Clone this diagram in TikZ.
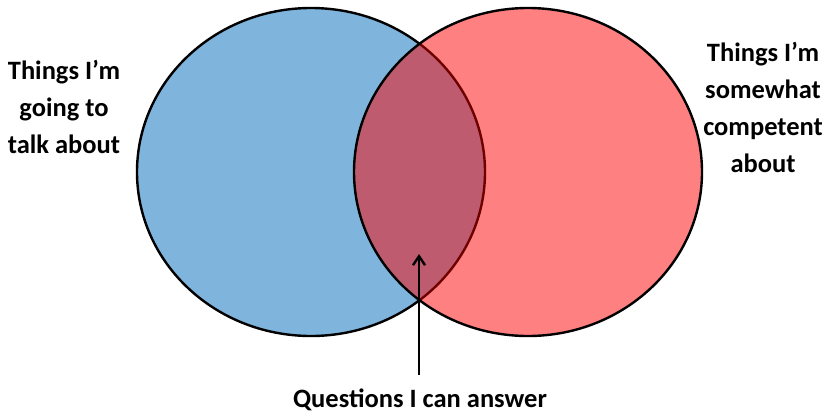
\documentclass[tikz,border=0pt]{standalone}
\usepackage{fontspec}
\setmainfont{Carlito}
\usetikzlibrary{arrows.meta}
\definecolor{vblue}{RGB}{127,181,221}
\definecolor{vred}{RGB}{255,128,128}
\definecolor{vmix}{RGB}{190,91,110}
\definecolor{vdark}{RGB}{110,0,0}
\tikzset{
  lbl/.style={font=\fontsize{26.5}{36.7}\selectfont\bfseries, align=center, inner sep=0pt, anchor=base},
  outline/.style={line width=2.4pt},
}
\begin{document}
\begin{tikzpicture}[x=1pt,y=-1pt]
\useasboundingbox (0,0) rectangle (827,410);
\coordinate (cl) at (311,172);
\coordinate (cr) at (528,172);
\fill[vblue] (cl) ellipse [x radius=174, y radius=164];
\fill[vred] (cr) ellipse [x radius=174, y radius=164];
\begin{scope}
  \clip (cl) ellipse [x radius=174, y radius=164];
  \fill[vmix] (cr) ellipse [x radius=174, y radius=164];
\end{scope}
% left ellipse outline: black outside the red one, dark red inside it
\begin{scope}[even odd rule]
  \clip (cr) ellipse [x radius=174, y radius=164] (-10,-10) rectangle (840,420);
  \draw[outline] (cl) ellipse [x radius=174, y radius=164];
\end{scope}
\begin{scope}
  \clip (cr) ellipse [x radius=174, y radius=164];
  \draw[outline, vdark] (cl) ellipse [x radius=174, y radius=164];
\end{scope}
\draw[outline] (cr) ellipse [x radius=174, y radius=164];
\node[lbl] (left) at (64,153) {Things I’m\\going to\\talk about};
\node[lbl] (right) at (763,172) {Things I’m\\somewhat\\competent\\about};
\node[lbl] (bottom) at (420,407) {Questions I can answer};
\coordinate (tail) at (419,375);
\coordinate (tip) at (419,254);
\draw[line width=2.4pt, -{Straight Barb[length=9pt,width=12pt,line width=2.4pt]}] (tail) -- (tip);
\end{tikzpicture}
\end{document}
